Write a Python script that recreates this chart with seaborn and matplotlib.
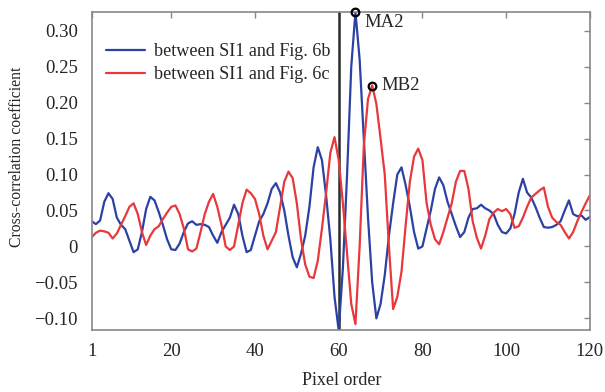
import matplotlib
matplotlib.use("Agg")
import matplotlib.pyplot as plt
import seaborn as sns
import pandas as pd

# pixel order 1..120
pixel_order = list(range(1, 121))

# cross-correlation between SI1 and Fig. 6b (blue)
corr_6b = [
    0.035, 0.031, 0.036, 0.062, 0.074, 0.066, 0.040, 0.030, 0.024, 0.008,
    -0.008, -0.004, 0.020, 0.052, 0.069, 0.064, 0.048, 0.030, 0.010, -0.004,
    -0.005, 0.004, 0.020, 0.032, 0.035, 0.030, 0.031, 0.030, 0.027, 0.015,
    0.005, 0.020, 0.030, 0.040, 0.058, 0.045, 0.015, -0.008, -0.005, 0.015,
    0.035, 0.045, 0.060, 0.080, 0.088, 0.075, 0.050, 0.015, -0.015, -0.029,
    -0.010, 0.015, 0.055, 0.110, 0.138, 0.120, 0.070, 0.010, -0.070, -0.117,
    -0.030, 0.100, 0.250, 0.326, 0.260, 0.150, 0.040, -0.050, -0.100, -0.080,
    -0.040, 0.015, 0.060, 0.100, 0.110, 0.085, 0.055, 0.020, -0.003, 0.000,
    0.025, 0.050, 0.080, 0.096, 0.085, 0.062, 0.045, 0.028, 0.013, 0.020,
    0.040, 0.052, 0.053, 0.058, 0.053, 0.050, 0.045, 0.030, 0.020, 0.018,
    0.025, 0.045, 0.075, 0.094, 0.075, 0.068, 0.055, 0.040, 0.027, 0.026,
    0.027, 0.030, 0.035, 0.050, 0.064, 0.045, 0.042, 0.043, 0.037, 0.041,
]

# cross-correlation between SI1 and Fig. 6c (red)
corr_6c = [
    0.013, 0.019, 0.022, 0.021, 0.019, 0.011, 0.018, 0.030, 0.042, 0.055,
    0.060, 0.045, 0.020, 0.002, 0.015, 0.024, 0.028, 0.038, 0.047, 0.055,
    0.057, 0.045, 0.025, -0.004, -0.007, -0.003, 0.020, 0.045, 0.062, 0.073,
    0.055, 0.030, 0.000, -0.005, 0.000, 0.030, 0.060, 0.079, 0.074, 0.066,
    0.045, 0.015, -0.004, 0.008, 0.020, 0.055, 0.090, 0.104, 0.095, 0.060,
    0.010, -0.025, -0.042, -0.044, -0.020, 0.025, 0.075, 0.130, 0.152, 0.120,
    0.060, -0.010, -0.080, -0.108, 0.000, 0.140, 0.205, 0.224, 0.198, 0.150,
    0.100, 0.000, -0.087, -0.070, -0.035, 0.030, 0.090, 0.125, 0.136, 0.120,
    0.060, 0.030, 0.010, 0.003, 0.020, 0.040, 0.060, 0.090, 0.105, 0.105,
    0.080, 0.035, 0.012, -0.003, 0.015, 0.038, 0.047, 0.052, 0.049, 0.052,
    0.045, 0.026, 0.028, 0.040, 0.055, 0.068, 0.073, 0.078, 0.082, 0.055,
    0.040, 0.034, 0.030, 0.020, 0.011, 0.020, 0.035, 0.048, 0.060, 0.071,
]

series_labels = ["between SI1 and Fig. 6b", "between SI1 and Fig. 6c"]
series_colors = ["#2b41a3", "#e8383b"]

# marked peaks
peak_names = ["MA2", "MB2"]
peak_x = [64, 68]
peak_y = [0.326, 0.2236]
label_offsets = [(6.5, -7.5), (6.5, 0)]

divider_x = 60
x_ticks = [1, 20, 40, 60, 80, 100, 120]
y_ticks = [-0.10, -0.05, 0, 0.05, 0.10, 0.15, 0.20, 0.25, 0.30]
y_tick_labels = ["\u22120.10", "\u22120.05", "0", "0.05", "0.10", "0.15", "0.20", "0.25", "0.30"]

df = pd.concat([
    pd.DataFrame({"Pixel order": pixel_order, "corr": corr_6b, "series": series_labels[0]}),
    pd.DataFrame({"Pixel order": pixel_order, "corr": corr_6c, "series": series_labels[1]}),
])

sns.set_style("white")
plt.rcParams["font.family"] = ["Liberation Serif", "DejaVu Serif"]
fs = 13.5

fig = plt.figure(figsize=(6.05, 3.92), dpi=100)
ax = fig.add_axes([0.1516, 0.158, 0.8234, 0.8114])

sns.lineplot(data=df, x="Pixel order", y="corr", hue="series",
             palette=series_colors, linewidth=1.6, ax=ax)

ax.axvline(divider_x, color="#2a2a2a", linewidth=1.8, zorder=1)

ax.plot(peak_x, peak_y, "o", markersize=5.5, markerfacecolor="none",
        markeredgecolor="black", markeredgewidth=1.6, clip_on=False, zorder=5)
for name, px, py, off in zip(peak_names, peak_x, peak_y, label_offsets):
    ax.annotate(name, (px, py), xytext=off, textcoords="offset points",
                fontsize=fs, ha="left", va="center")

ax.set_xlim(1, 120)
ax.set_ylim(-0.1163, 0.326)
ax.set_xticks(x_ticks)
ax.set_yticks(y_ticks)
ax.set_yticklabels(y_tick_labels)
ax.tick_params(direction="in", top=True, right=True, length=4, width=1,
               color="#888888", labelsize=fs)
ax.tick_params(axis="y", pad=10)
ax.tick_params(axis="x", pad=9)
for s in ax.spines.values():
    s.set_color("#888888")
    s.set_linewidth(1.2)

ax.set_xlabel("Pixel order", fontsize=13)
ax.set_ylabel("Cross-correlation coefficient", fontsize=11.3)
# label centres (pixels -> axes fraction)
ax.xaxis.set_label_coords((342 - 91.7) / 498.3, -(380 - 330) / 318)
ax.yaxis.set_label_coords(-(91.7 - 16.7) / 498.3, (330 - 157) / 318)
ax.xaxis.label.set_va("center")
ax.yaxis.label.set_va("center")

leg = ax.legend(loc="upper left", frameon=False, fontsize=13.1,
                handlelength=2.1, handletextpad=0.5, labelspacing=0.3,
                bbox_to_anchor=(0.015, 0.924), borderaxespad=0)

fig.savefig("out.png", dpi=100)
